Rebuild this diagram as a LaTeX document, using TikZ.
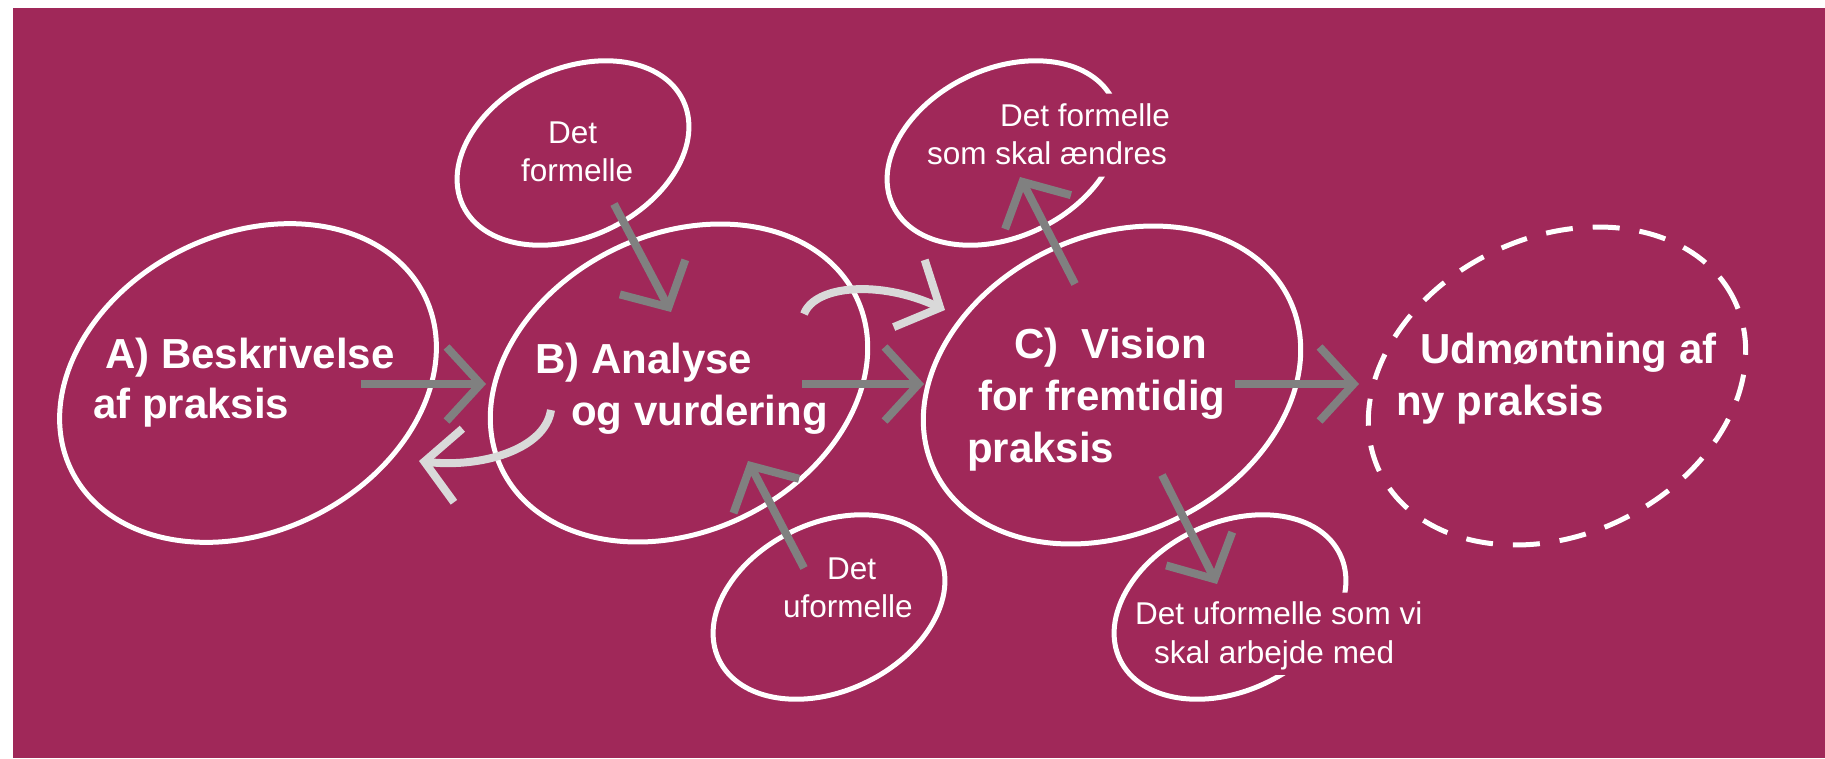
\documentclass[tikz,border=0pt]{standalone}
\usepackage{fontspec}
\setmainfont{Liberation Sans}
\usetikzlibrary{arrows.meta,shapes.geometric}
\definecolor{bg}{RGB}{160,40,89}
\definecolor{dgray}{RGB}{128,128,128}
\definecolor{lgray}{RGB}{217,217,217}
\begin{document}
\begin{tikzpicture}[x=1pt,y=-1pt,
  bigbubble/.style={ellipse, draw=white, line width=5pt, inner sep=0pt,
    minimum width=394pt, minimum height=297pt, rotate=26},
  smallbubble/.style={ellipse, draw=white, line width=5pt, inner sep=0pt,
    minimum width=244pt, minimum height=168pt, rotate=25.5},
  bigtext/.style={font=\fontsize{42}{50}\selectfont\bfseries, text=white,
    inner sep=0pt, anchor=base west},
  smalltext/.style={font=\fontsize{31.5}{38}\selectfont, text=white,
    inner sep=0pt, anchor=base west},
  tipstyle/.style={-{Straight Barb[length=34pt,width=74pt]}},
  darkarrow/.style={draw=dgray, line width=8pt, tipstyle},
  lightarrow/.style={draw=lgray, line width=8pt, tipstyle},
]
\useasboundingbox (0,0) rectangle (1825,758);
\fill[white] (0,0) rectangle (1825,758);
\fill[bg] (13,8) rectangle (1825,758);

% main bubbles
\node[bigbubble, rotate=0.5] (A) at (248,383) {};
\node[bigbubble] (B) at (679,383) {};
\node[bigbubble] (C) at (1112,385) {};
\node[bigbubble, dash pattern=on 27pt off 20pt] (D) at (1557,386) {};

% small bubbles
\node[smallbubble] (E1) at (573,153) {};
\begin{scope}[even odd rule]
  \clip (0,0) rectangle (1825,758) (1060,93.5) rectangle (1145,176.5);
  \node[smallbubble] (E2) at (1003,153) {};
\end{scope}
\node[smallbubble] (E3) at (829,607) {};
\begin{scope}[even odd rule]
  \clip (0,0) rectangle (1825,758) (1250,592.5) rectangle (1365,675);
  \node[smallbubble] (E4) at (1230,607) {};
\end{scope}

% arrow end points
\coordinate (ab1) at (361,384);  \coordinate (ab2) at (486,384);
\coordinate (bc1) at (802,384);  \coordinate (bc2) at (924,384);
\coordinate (cd1) at (1235,384); \coordinate (cd2) at (1359,384);
\coordinate (e1b1) at (614,204); \coordinate (e1b2) at (671,312);
\coordinate (e3b1) at (804,568); \coordinate (e3b2) at (748,461);
\coordinate (ce21) at (1075,284); \coordinate (ce22) at (1020,177);
\coordinate (ce41) at (1162,475); \coordinate (ce42) at (1217,584);
\coordinate (ba1) at (551,410);  \coordinate (ba2) at (419,461);
\coordinate (bcc1) at (804,314); \coordinate (bcc2) at (945,310);

\draw[darkarrow] (ab1) -- (ab2);
\draw[darkarrow] (bc1) -- (bc2);
\draw[darkarrow] (cd1) -- (cd2);
\draw[darkarrow] (e1b1) -- (e1b2);
\draw[darkarrow] (e3b1) -- (e3b2);
\draw[darkarrow] (ce21) -- (ce22);
\draw[darkarrow] (ce41) -- (ce42);
\draw[lightarrow] (ba1) .. controls (545,450) and (480,468) .. (ba2);
\draw[lightarrow] (bcc1) .. controls (815,285) and (880,280) .. (bcc2);

% main texts
\node[bigtext] (ta1) at (105,368) {A) Beskrivelse};
\node[bigtext] (ta2) at (93,418) {af praksis};
\node[bigtext] (tb1) at (535,373) {B) Analyse};
\node[bigtext] (tb2) at (571,425) {og vurdering};
\node[bigtext] (tc1) at (1014,358) {C)\ \ Vision};
\node[bigtext] (tc2) at (978,410) {for fremtidig};
\node[bigtext] (tc3) at (967,462) {praksis};
\node[bigtext] (td1) at (1420,363) {Udmøntning af};
\node[bigtext] (td2) at (1396,415) {ny praksis};

% small texts
\node[smalltext] (te11) at (548,143) {Det};
\node[smalltext] (te12) at (521,181) {formelle};
\node[smalltext] (te21) at (1000,126) {Det formelle};
\node[smalltext] (te22) at (927,164) {som skal ændres};
\node[smalltext] (te31) at (827,579) {Det};
\node[smalltext] (te32) at (783,617) {uformelle};
\node[smalltext] (te41) at (1135,624) {Det uformelle som vi};
\node[smalltext] (te42) at (1154,663) {skal arbejde med};
\end{tikzpicture}
\end{document}
